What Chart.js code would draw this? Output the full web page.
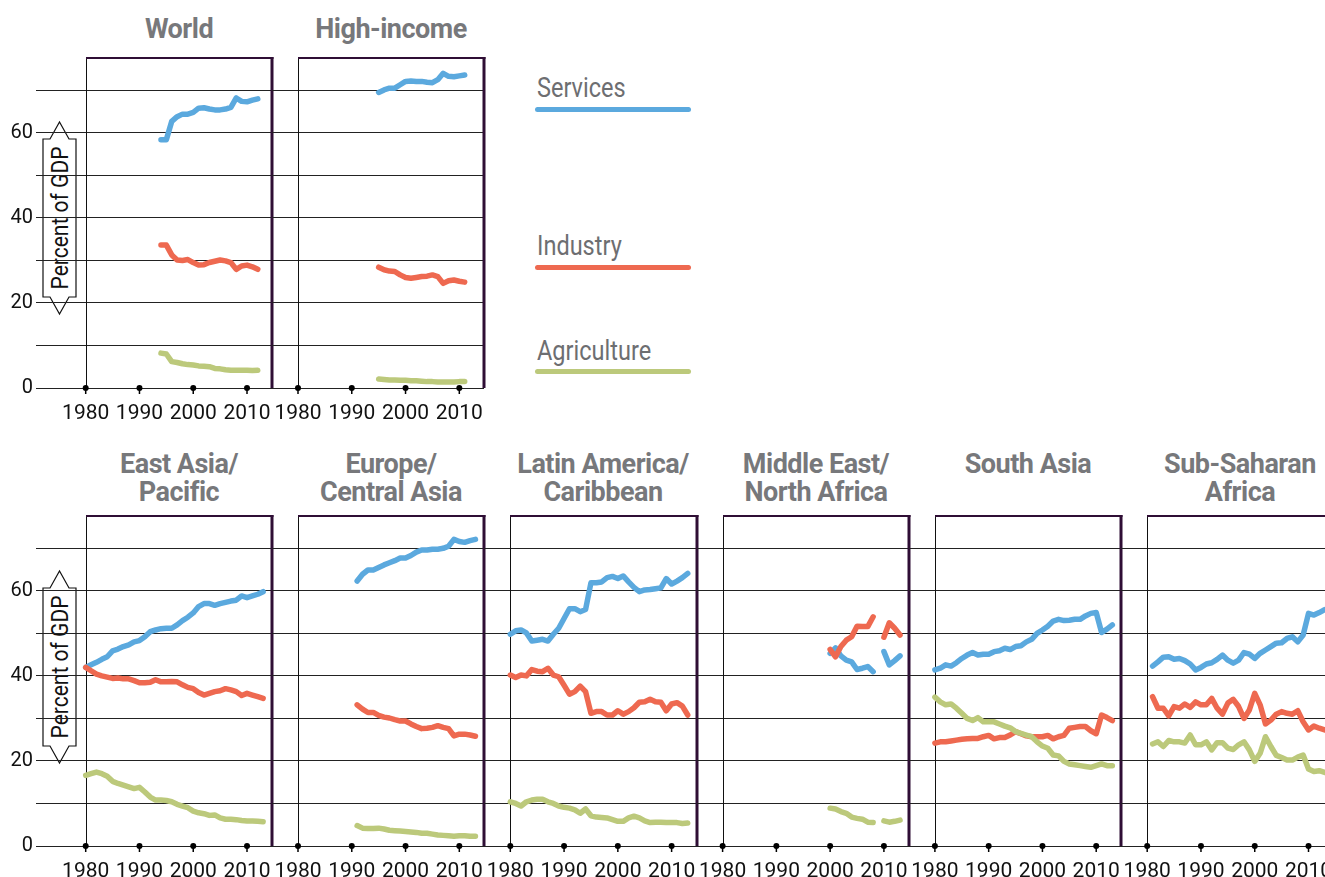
<!DOCTYPE html>
<html>
<head>
<meta charset="utf-8">
<script src="https://cdn.jsdelivr.net/npm/chart.js@4.4.1/dist/chart.umd.min.js"></script>
<style>
  html, body { margin: 0; padding: 0; background: #fff; width: 1325px; height: 877px; overflow: hidden; }
  body { position: relative; font-family: Roboto, "Noto Sans", sans-serif; }
  canvas.panel { position: absolute; }
  .title { position: absolute; width: 260px; margin-left: -130px; text-align: center; font-weight: bold;
           font-size: 27px; line-height: 28px; color: #77787b; letter-spacing: -0.5px; }
  .legend { position: absolute; left: 537px; font-size: 28px; line-height: 30px; color: #6d6e71;
            transform: scaleX(0.84); transform-origin: 0 0; white-space: nowrap; }
  .key { position: absolute; left: 535px; width: 156px; height: 5px; border-radius: 3px; }
  svg.axislabel { position: absolute; left: 38px; overflow: visible; }
</style>
</head>
<body>

<div class="title" style="left:179px; top:15px">World</div>
<div class="title" style="left:391px; top:15px">High-income</div>

<div class="title" style="left:179px; top:450px">East Asia/<br>Pacific</div>
<div class="title" style="left:391px; top:450px">Europe/<br>Central Asia</div>
<div class="title" style="left:603px; top:450px">Latin America/<br>Caribbean</div>
<div class="title" style="left:816px; top:450px">Middle East/<br>North Africa</div>
<div class="title" style="left:1028px; top:450px">South Asia</div>
<div class="title" style="left:1240px; top:450px">Sub-Saharan<br>Africa</div>

<div class="legend" style="top:73px">Services</div>
<div class="key" style="top:107px; background:#5ba9de"></div>
<div class="legend" style="top:231px">Industry</div>
<div class="key" style="top:265px; background:#ee6950"></div>
<div class="legend" style="top:336px">Agriculture</div>
<div class="key" style="top:369px; background:#bcc97b"></div>

<svg class="axislabel" style="top:118px" width="42" height="200">
  <path d="M5,21 L12,21 L21.5,4 L31,21 L38,21 L38,179 L31,179 L21.5,196 L12,179 L5,179 Z"
        fill="#fff" stroke="#111" stroke-width="1.2"/>
  <text x="0" y="0" transform="translate(29.5,100) rotate(-90)" text-anchor="middle" textLength="143"
        lengthAdjust="spacingAndGlyphs" font-family="Roboto, sans-serif" font-size="23" fill="#111">Percent of GDP</text>
</svg>
<svg class="axislabel" style="top:567px" width="42" height="200">
  <path d="M5,21 L12,21 L21.5,4 L31,21 L38,21 L38,179 L31,179 L21.5,196 L12,179 L5,179 Z"
        fill="#fff" stroke="#111" stroke-width="1.2"/>
  <text x="0" y="0" transform="translate(29.5,100) rotate(-90)" text-anchor="middle" textLength="143"
        lengthAdjust="spacingAndGlyphs" font-family="Roboto, sans-serif" font-size="23" fill="#111">Percent of GDP</text>
</svg>

<script>
// Value added by sector, percent of GDP, one value per year from the start year
const worldStart = 1994;
const worldServices    = [58.4, 58.4, 62.7, 63.8, 64.4, 64.4, 64.8, 65.8, 65.9, 65.6, 65.4, 65.4, 65.6, 66.0, 68.2, 67.4, 67.3, 67.7, 68.0];
const worldIndustry    = [33.6, 33.6, 31.3, 30.1, 30.0, 30.2, 29.5, 28.9, 29.0, 29.5, 29.8, 30.1, 29.9, 29.5, 27.9, 28.7, 28.9, 28.5, 27.9];
const worldAgriculture = [8.2, 8.0, 6.2, 6.0, 5.7, 5.5, 5.4, 5.2, 5.1, 5.0, 4.6, 4.5, 4.3, 4.2, 4.2, 4.2, 4.2, 4.1, 4.2];

const highStart = 1995;
const highServices    = [69.5, 70.1, 70.5, 70.5, 71.3, 72.1, 72.2, 72.1, 72.1, 71.9, 71.8, 72.5, 74.0, 73.3, 73.2, 73.4, 73.6];
const highIndustry    = [28.4, 27.8, 27.5, 27.4, 26.6, 26.0, 25.8, 26.0, 26.2, 26.3, 26.6, 26.2, 24.6, 25.2, 25.4, 25.1, 24.9];
const highAgriculture = [2.1, 2.0, 1.9, 1.9, 1.8, 1.8, 1.7, 1.7, 1.6, 1.5, 1.5, 1.4, 1.4, 1.4, 1.4, 1.5, 1.5];

const eapStart = 1980;
const eapServices = [42.0, 42.6, 43.2, 43.9, 44.5, 45.9, 46.3, 46.9, 47.3, 48.0,
                     48.3, 49.2, 50.4, 50.8, 51.1, 51.2, 51.2, 52.0, 53.0, 53.8,
                     54.8, 56.3, 57.0, 57.0, 56.6, 57.0, 57.3, 57.6, 57.8, 58.8,
                     58.4, 58.8, 59.2, 59.8];
const eapIndustry = [42.0, 41.2, 40.4, 40.0, 39.7, 39.4, 39.5, 39.3, 39.3, 38.9,
                     38.4, 38.4, 38.5, 39.1, 38.6, 38.6, 38.7, 38.6, 37.9, 37.3,
                     37.0, 36.1, 35.5, 35.9, 36.3, 36.5, 37.0, 36.7, 36.3, 35.4,
                     35.9, 35.5, 35.1, 34.7];
const eapAgriculture = [16.6, 17.0, 17.4, 17.0, 16.4, 15.2, 14.7, 14.3, 13.9, 13.5,
                        13.8, 12.7, 11.5, 10.8, 10.8, 10.7, 10.4, 9.8, 9.4, 9.0,
                        8.2, 7.8, 7.6, 7.2, 7.3, 6.6, 6.3, 6.3, 6.2, 6.0,
                        5.9, 5.9, 5.8, 5.7];

const ecaStart = 1991;
const ecaServices = [62.3, 63.9, 64.9, 64.9, 65.5, 66.1, 66.6, 67.1, 67.7, 67.7,
                     68.3, 69.1, 69.6, 69.6, 69.8, 69.8, 70.0, 70.5, 72.1, 71.6,
                     71.4, 71.8, 72.1];
const ecaIndustry = [33.2, 32.2, 31.4, 31.4, 30.7, 30.3, 30.1, 29.7, 29.4, 29.4,
                     28.7, 28.1, 27.6, 27.7, 27.9, 28.3, 27.9, 27.6, 25.9, 26.3,
                     26.3, 26.1, 25.8];
const ecaAgriculture = [4.8, 4.2, 4.1, 4.1, 4.2, 4.0, 3.7, 3.6, 3.5, 3.4,
                        3.3, 3.2, 3.0, 3.0, 2.8, 2.6, 2.5, 2.4, 2.3, 2.4,
                        2.4, 2.3, 2.3];

const lacStart = 1980;
const lacServices = [49.8, 50.6, 50.8, 50.1, 48.2, 48.4, 48.6, 48.2, 49.8, 51.2,
                     53.5, 55.8, 55.8, 55.1, 55.6, 61.9, 61.9, 62.1, 63.1, 63.4,
                     62.9, 63.5, 62.1, 60.8, 59.8, 60.2, 60.3, 60.5, 60.7, 62.9,
                     61.6, 62.3, 63.1, 64.1];
const lacIndustry = [40.2, 39.6, 40.2, 40.0, 41.5, 41.1, 41.0, 41.8, 40.2, 39.8,
                     37.8, 35.7, 36.3, 37.6, 36.3, 31.2, 31.6, 31.6, 30.8, 30.8,
                     31.8, 31.0, 31.6, 32.5, 33.8, 33.9, 34.5, 33.9, 33.8, 31.8,
                     33.4, 33.7, 32.9, 30.8];
const lacAgriculture = [10.4, 10.0, 9.4, 10.4, 10.8, 11.0, 11.0, 10.4, 10.0, 9.4,
                        9.1, 8.9, 8.5, 7.7, 8.7, 7.1, 6.8, 6.7, 6.6, 6.2,
                        5.8, 5.8, 6.6, 7.0, 6.6, 5.9, 5.5, 5.6, 5.6, 5.5,
                        5.5, 5.5, 5.3, 5.4];

// 2009 is missing
const menaStart = 2000;
const menaServices    = [45.3, 46.6, 44.7, 43.7, 43.3, 41.5, 41.8, 42.2, 41.0, null, 45.7, 42.6, 43.6, 44.7];
const menaIndustry    = [46.2, 44.5, 46.9, 48.4, 49.2, 51.7, 51.6, 51.6, 53.9, null, 49.1, 52.5, 51.2, 49.6];
const menaAgriculture = [8.9, 8.7, 8.1, 7.7, 6.8, 6.5, 6.3, 5.6, 5.5, null, 5.9, 5.6, 5.8, 6.1];

const sasStart = 1980;
const sasServices = [41.4, 41.8, 42.6, 42.3, 43.1, 44.1, 44.9, 45.5, 44.9, 45.1,
                     45.1, 45.7, 45.9, 46.5, 46.2, 46.9, 47.1, 48.0, 48.6, 50.0,
                     50.8, 51.7, 52.9, 53.3, 53.0, 53.1, 53.3, 53.3, 54.1, 54.7,
                     54.9, 50.2, 51.0, 52.0];
const sasIndustry = [24.2, 24.5, 24.5, 24.7, 24.9, 25.1, 25.2, 25.3, 25.3, 25.7,
                     26.0, 25.2, 25.5, 25.5, 26.1, 26.9, 26.4, 25.9, 25.7, 25.7,
                     25.7, 26.0, 25.2, 25.7, 26.0, 27.7, 27.9, 28.1, 28.1, 27.1,
                     26.4, 30.8, 30.2, 29.5];
const sasAgriculture = [35.0, 33.9, 33.2, 33.4, 32.4, 31.2, 30.0, 29.5, 30.2, 29.2,
                        29.2, 29.2, 28.7, 28.2, 27.8, 26.9, 26.5, 26.1, 25.7, 24.5,
                        23.5, 23.0, 21.4, 21.2, 19.9, 19.3, 19.1, 18.9, 18.7, 18.5,
                        18.9, 19.3, 18.9, 18.9];

const ssaStart = 1981;
const ssaServices = [42.3, 43.3, 44.4, 44.5, 43.9, 44.1, 43.6, 42.8, 41.4,
                     42.0, 42.8, 43.1, 43.9, 44.9, 43.7, 43.0, 43.7, 45.5, 45.1,
                     44.1, 45.3, 46.1, 46.9, 47.7, 47.8, 48.8, 49.2, 48.0, 49.6,
                     54.7, 54.3, 54.9, 55.6];
const ssaIndustry = [35.1, 32.4, 32.4, 30.6, 32.8, 32.4, 33.4, 32.6, 33.9,
                     33.2, 33.2, 34.7, 32.4, 31.0, 33.6, 34.5, 32.8, 30.0, 32.0,
                     35.9, 33.2, 28.7, 29.6, 31.0, 31.6, 31.2, 31.0, 31.8, 29.2,
                     27.3, 28.2, 27.7, 27.3];
const ssaAgriculture = [24.0, 24.5, 23.4, 24.8, 24.5, 24.5, 24.2, 26.1, 23.8,
                        23.8, 24.5, 22.6, 24.3, 24.3, 23.0, 22.7, 23.8, 24.5, 22.6,
                        19.9, 21.8, 25.7, 23.4, 21.3, 20.8, 20.2, 20.2, 20.9, 21.4,
                        18.1, 17.5, 17.7, 17.3];

const decadeTicks = [1980, 1990, 2000, 2010];
const gridValues = [0, 10, 20, 30, 40, 50, 60, 70];

const COLORS = { services: '#5ba9de', industry: '#ee6950', agriculture: '#bcc97b' };

const topRow = [
  { start: worldStart, services: worldServices, industry: worldIndustry, agriculture: worldAgriculture },
  { start: highStart, services: highServices, industry: highIndustry, agriculture: highAgriculture }
];
const bottomRow = [
  { start: eapStart, services: eapServices, industry: eapIndustry, agriculture: eapAgriculture },
  { start: ecaStart, services: ecaServices, industry: ecaIndustry, agriculture: ecaAgriculture },
  { start: lacStart, services: lacServices, industry: lacIndustry, agriculture: lacAgriculture },
  { start: menaStart, services: menaServices, industry: menaIndustry, agriculture: menaAgriculture },
  { start: sasStart, services: sasServices, industry: sasIndustry, agriculture: sasAgriculture },
  { start: ssaStart, services: ssaServices, industry: ssaIndustry, agriculture: ssaAgriculture }
];

Chart.defaults.font.family = 'Roboto, "Noto Sans", sans-serif';
Chart.defaults.color = '#111';

const PX_PER_YEAR = 5.377;
const PANEL_STEP = 212.3;
const PANEL_WIDTH = 186.3;
const PLOT_HEIGHT = 330;
const PAD_TOP = 4, PAD_RIGHT = 4, AXIS_HEIGHT = 48, Y_LABEL_WIDTH = 36;

const points = (start, values) => values.map((v, i) => ({ x: start + i, y: v }));

// scales must not push the plot area around: panels line up edge to edge
const noScalePadding = s => { s.paddingLeft = 0; s.paddingRight = 0; s.paddingTop = 0; s.paddingBottom = 0; };

// box round each panel plus the dots on the zero line
const panelFrame = {
  id: 'panelFrame',
  beforeDatasetsDraw(chart) {
    const { ctx, chartArea, scales: { x, y } } = chart;
    const left = Math.round(x.getPixelForValue(1980)) + 0.5;
    const base = y.getPixelForValue(0);
    const top = chartArea.top, right = chartArea.right;
    ctx.save();
    ctx.strokeStyle = '#111';
    ctx.lineWidth = 1;
    ctx.beginPath(); ctx.moveTo(left, base); ctx.lineTo(left, top); ctx.stroke();
    ctx.strokeStyle = '#2f0e35';
    ctx.lineWidth = 2;
    ctx.beginPath(); ctx.moveTo(left - 0.5, top); ctx.lineTo(right + 1.5, top); ctx.stroke();
    ctx.lineWidth = 3;
    ctx.beginPath(); ctx.moveTo(right, top - 1); ctx.lineTo(right, base); ctx.stroke();
    ctx.restore();
  },
  afterDatasetsDraw(chart) {
    const { ctx, scales: { x, y } } = chart;
    const base = y.getPixelForValue(0);
    ctx.save();
    ctx.fillStyle = '#000';
    ctx.strokeStyle = '#000';
    ctx.lineWidth = 1.5;
    decadeTicks.forEach(t => {
      const px = x.getPixelForValue(t);
      ctx.beginPath();
      ctx.moveTo(px, base);
      ctx.lineTo(px, base + 6);
      ctx.stroke();
      ctx.beginPath();
      ctx.arc(px, base, 3, 0, Math.PI * 2);
      ctx.fill();
    });
    ctx.restore();
  }
};

function makePanel(region, rowTop, i) {
  const x1980 = 85.7 + PANEL_STEP * i;
  const frameRight = Math.round(x1980 + PANEL_WIDTH);
  const canvasLeft = i === 0 ? 0 : Math.round(x1980 - 26);
  const plotLeft = i === 0 ? Y_LABEL_WIDTH : canvasLeft;

  const canvas = document.createElement('canvas');
  canvas.className = 'panel';
  canvas.width = frameRight - canvasLeft + PAD_RIGHT;
  canvas.height = PAD_TOP + PLOT_HEIGHT + AXIS_HEIGHT;
  canvas.style.left = canvasLeft + 'px';
  canvas.style.top = rowTop + 'px';
  document.body.appendChild(canvas);

  const line = (label, values, color, order) => ({
    label, data: points(region.start, values), order,
    borderColor: color, backgroundColor: color, borderWidth: 5.5,
    borderCapStyle: 'round', borderJoinStyle: 'round',
    pointRadius: 0, tension: 0, spanGaps: false
  });

  return new Chart(canvas, {
    type: 'line',
    data: {
      datasets: [
        line('Services', region.services, COLORS.services, 2),
        line('Industry', region.industry, COLORS.industry, 1),
        line('Agriculture', region.agriculture, COLORS.agriculture, 0)
      ]
    },
    options: {
      responsive: false,
      animation: false,
      events: [],
      layout: { padding: { top: PAD_TOP, right: PAD_RIGHT, left: 0, bottom: 0 } },
      plugins: { legend: { display: false }, tooltip: { enabled: false } },
      scales: {
        x: {
          type: 'linear',
          min: 1980 - (x1980 - plotLeft) / PX_PER_YEAR,
          max: 1980 + (frameRight - x1980) / PX_PER_YEAR,
          afterBuildTicks: s => { s.ticks = decadeTicks.map(v => ({ value: v })); },
          afterFit: s => { s.height = AXIS_HEIGHT; noScalePadding(s); },
          border: { display: false },
          grid: { display: false },
          ticks: { autoSkip: false, maxRotation: 0, padding: 5, color: '#111',
                   font: { size: 21 }, callback: v => String(v) }
        },
        y: {
          min: 0,
          max: 77.6,
          afterBuildTicks: s => { s.ticks = gridValues.map(v => ({ value: v })); },
          afterFit: s => { s.width = i === 0 ? Y_LABEL_WIDTH : 0; noScalePadding(s); },
          border: { display: false },
          grid: { color: '#222', lineWidth: 1, drawTicks: false },
          ticks: { display: i === 0, padding: 3, color: '#111', font: { size: 20 },
                   callback: v => (v % 20 === 0 ? String(v) : '') }
        }
      }
    },
    plugins: [panelFrame]
  });
}

topRow.forEach((r, i) => makePanel(r, 58 - PAD_TOP, i));
bottomRow.forEach((r, i) => makePanel(r, 516 - PAD_TOP, i));
</script>
</body>
</html>
